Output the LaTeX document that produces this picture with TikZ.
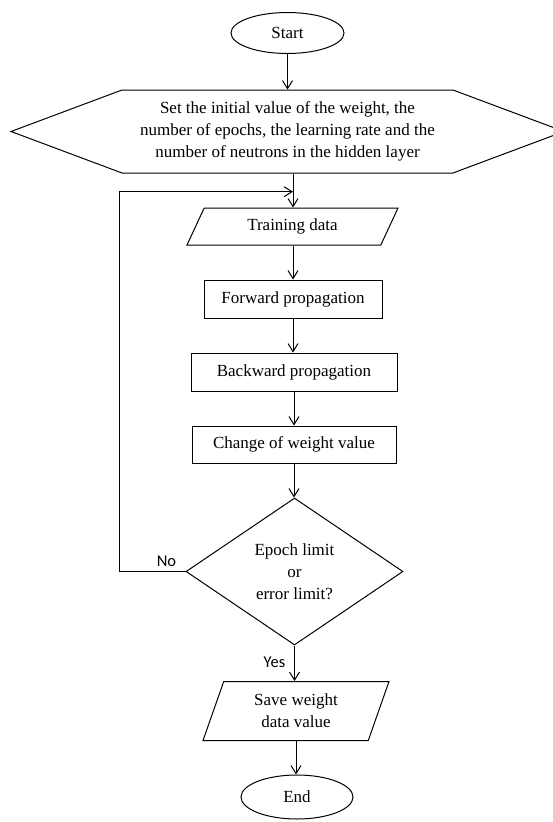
\documentclass[tikz,border=0pt]{standalone}
\usepackage{fontspec}
\setmainfont{Liberation Serif}
\newfontfamily\labelfont{Carlito}
\usetikzlibrary{shapes.geometric}
\usetikzlibrary{shapes.symbols}
\usetikzlibrary{arrows.meta}
\tikzset{arr/.style = {-{Straight Barb[length=8pt,width=10pt,line width=1pt]}}}
\tikzset{txt/.style = {font=\fontsize{17}{22}\selectfont, align=center}}
\tikzset{term/.style = {txt, draw, ellipse, inner sep=0, minimum width=113, minimum height=41}}
\tikzset{box/.style = {txt, draw, rectangle, inner sep=0, minimum height=38}}
\tikzset{io/.style = {txt, draw, trapezium, inner sep=0, trapezium stretches body=true}}
\tikzset{lbl/.style = {font=\labelfont\fontsize{16.5}{20}\selectfont, inner sep=0}}

\begin{document}
\begin{tikzpicture}[x=1pt, y=-1pt, line width=1pt]
      \useasboundingbox (0,0) rectangle (553,822);

      \node [term] (start) at (287.5,33) {Start};
      \node [txt, draw, signal, signal to=west and east, signal pointer angle=41,
             inner sep=0, minimum width=553, minimum height=83] (init) at (287.5,131.5)
            {Set the initial value of the weight, the\\number of epochs, the learning rate and the\\number of neutrons in the hidden layer};
      \node [io, trapezium left angle=42, trapezium right angle=138,
             minimum width=211, minimum height=37] (train) at (292.5,226.5) {Training data};
      \node [box, minimum width=178] (fwd) at (293,299) {Forward propagation};
      \node [box, minimum width=206] (bwd) at (294,372) {Backward propagation};
      \node [box, minimum width=204, minimum height=37] (chg) at (294,444.5) {Change of weight value};
      \node [txt, draw, diamond, inner sep=0, minimum width=217, minimum height=147] (check) at (294.5,571.5)
            {Epoch limit\\or\\error limit?};
      \node [io, trapezium left angle=58.6, trapezium right angle=121.4,
             minimum width=186, minimum height=59] (save) at (296,711) {Save weight\\data value};
      \node [term, minimum width=112, minimum height=44] (end) at (297,797) {End};

      \node [lbl] (no) at (166.5,561) {No};
      \node [lbl] (yes) at (274.5,662) {Yes};

      \coordinate (back) at (119,191.7);
      \coordinate (join) at (293,191.7);

      \draw [arr] (start.south) -- (init.north);
      \draw [arr] (init.south -| join) -- (train.north -| join);
      \draw [arr] (train.south -| fwd.north) -- (fwd.north);
      \draw [arr] (fwd.south) -- (fwd.south |- bwd.north);
      \draw [arr] (bwd.south) -- (bwd.south |- chg.north);
      \draw [arr] (chg.south) -- (chg.south |- check.north);
      \draw [arr] (check.south) -- (check.south |- save.north);
      \draw [arr] (save.south) -- (save.south |- end.north);
      \draw [arr] (check.west) -| (back) -- (join);
    \end{tikzpicture}
\end{document}
